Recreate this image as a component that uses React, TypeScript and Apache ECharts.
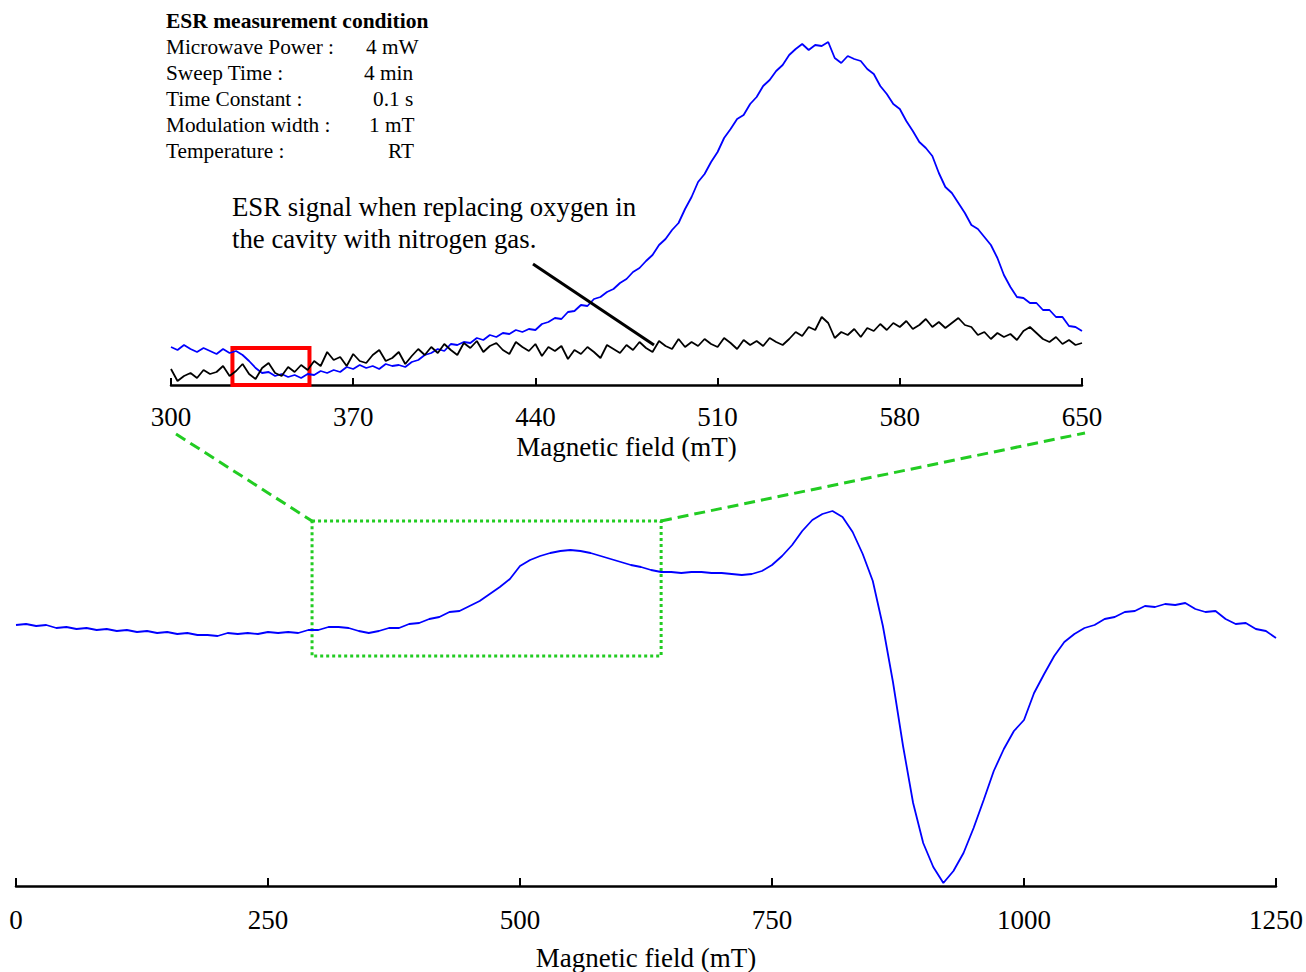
import React, { useEffect, useRef } from "react";
import * as echarts from "echarts";

// Inset (top) panel: field sampled from 300 mT every 2.5 mT
const insetStart = 300;
const insetStep = 2.5;
const insetTicks = [300, 370, 440, 510, 580, 650];

// ESR signal in air (blue), arbitrary units
const insetAir = [
  38, 35, 40, 36, 33, 37, 34, 31, 36, 32,
  34, 30, 24, 17, 12, 13, 9, 11, 8, 10,
  7, 11, 10, 14, 12, 15, 13, 18, 16, 20,
  17, 19, 16, 21, 19, 20, 18, 23, 25, 30,
  32, 36, 34, 41, 40, 43, 42, 47, 45, 50,
  48, 52, 51, 55, 53, 56, 55, 61, 63, 67,
  66, 73, 74, 80, 79, 86, 88, 93, 96, 102,
  106, 113, 117, 124, 130, 140, 146, 155, 162, 176,
  188, 203, 211, 223, 233, 247, 256, 266, 270, 281,
  288, 299, 305, 314, 320, 330, 336, 341, 335, 340,
  339, 343, 327, 322, 329, 326, 324, 316, 311, 299,
  291, 281, 276, 264, 254, 243, 237, 229, 212, 198,
  192, 182, 172, 160, 156, 148, 140, 127, 110, 98,
  88, 87, 82, 82, 75, 75, 68, 68, 59, 58,
  54,
];

// ESR signal with nitrogen in the cavity (black)
const insetNitrogen = [
  16, 4, 9, 12, 7, 15, 11, 13, 19, 9,
  14, 21, 11, 6, 17, 22, 12, 9, 18, 13,
  20, 15, 24, 19, 33, 25, 28, 19, 31, 24,
  22, 30, 35, 24, 27, 33, 21, 29, 36, 30,
  38, 32, 41, 35, 30, 42, 37, 44, 33, 39,
  42, 35, 31, 43, 38, 34, 41, 29, 38, 34,
  39, 26, 35, 31, 38, 33, 27, 40, 36, 32,
  40, 35, 43, 37, 33, 44, 39, 36, 46, 38,
  43, 39, 46, 41, 38, 47, 42, 36, 45, 40,
  44, 39, 47, 43, 40, 46, 53, 49, 58, 55,
  68, 62, 47, 53, 50, 56, 48, 57, 54, 61,
  55, 62, 58, 64, 56, 60, 66, 58, 63, 57,
  62, 67, 60, 58, 50, 53, 46, 52, 48, 51,
  45, 54, 58, 52, 46, 43, 48, 41, 45, 40,
  42,
];

// Main (bottom) panel: field sampled from 0 mT every 10 mT
const mainStart = 0;
const mainStep = 10;
const mainTicks = [0, 250, 500, 750, 1000, 1250];
const mainSignal = [
  261, 262, 260, 261, 258, 259, 257, 258, 256, 257,
  255, 256, 254, 255, 253, 254, 252, 253, 251, 251,
  250, 253, 252, 253, 252, 254, 253, 254, 253, 256,
  256, 259, 259, 258, 255, 253, 255, 258, 258, 262,
  263, 267, 269, 274, 275, 280, 285, 292, 299, 307,
  320, 326, 330, 333, 335, 336, 335, 333, 330, 327,
  324, 321, 319, 316, 314, 314, 313, 314, 314, 313,
  313, 312, 311, 312, 315, 321, 330, 341, 355, 366,
  372, 375, 369, 354, 332, 305, 260, 204, 140, 83,
  43, 19, 3, 15, 33, 58, 86, 115, 137, 155,
  166, 193, 212, 230, 244, 252, 258, 261, 267, 269,
  274, 275, 280, 279, 282, 281, 283, 277, 274, 275,
  267, 262, 263, 257, 255, 248,
];

// Zoom boxes (field range, signal range)
const redBox = { x: [323.6, 353.2], y: [0, 37] };
const greenBox = { x: [293.7, 640], y: [230, 365] };

const conditionTitle = "ESR measurement condition";
const conditionLabels = [
  "Microwave Power :",
  "Sweep Time :",
  "Time Constant :",
  "Modulation width :",
  "Temperature :",
];
const conditionValues = ["4 mW", "4 min", "0.1 s", "1 mT", "RT"];
const noteLines = [
  "ESR signal when replacing oxygen in",
  "the cavity with nitrogen gas.",
];

const FONT = '"Liberation Serif", "Times New Roman", serif';

function pairs(start: number, step: number, values: number[]) {
  return values.map((v, i) => [start + i * step, v]);
}

export default function App() {
  const ref = useRef<HTMLDivElement>(null);

  useEffect(() => {
    if (!ref.current) return;
    const chart = echarts.init(ref.current, null, { renderer: "svg" });

    const axisCommon = (ticks: number[], tickLen: number, margin: number) => ({
      type: "value" as const,
      min: ticks[0],
      max: ticks[ticks.length - 1],
      interval: ticks[1] - ticks[0],
      splitLine: { show: false },
      axisLine: { show: true, onZero: false, lineStyle: { color: "#000", width: 2.5 } },
      axisTick: { show: true, inside: true, length: tickLen, lineStyle: { color: "#000", width: 2 } },
      axisLabel: {
        color: "#000",
        fontSize: 27,
        fontFamily: FONT,
        margin,
        formatter: (v: number) => String(v),
      },
      name: "Magnetic field (mT)",
      nameLocation: "middle" as const,
      nameTextStyle: { color: "#000", fontSize: 27, fontFamily: FONT },
    });

    const valueCol = [366, 364, 373, 369, 388];
    const graphic: any[] = [];
    graphic.push({
      type: "text",
      x: 166,
      y: 21,
      style: {
        text: conditionTitle,
        font: `bold 21.5px ${FONT}`,
        fill: "#000",
        textVerticalAlign: "middle",
        verticalAlign: "middle",
      },
    });
    conditionLabels.forEach((t, i) => {
      graphic.push({
        type: "text",
        x: 166,
        y: 47 + i * 26,
        style: { text: t, font: `21.3px ${FONT}`, fill: "#000", textVerticalAlign: "middle", verticalAlign: "middle" },
      });
      graphic.push({
        type: "text",
        x: valueCol[i],
        y: 47 + i * 26,
        style: { text: conditionValues[i], font: `21.3px ${FONT}`, fill: "#000", textVerticalAlign: "middle", verticalAlign: "middle" },
      });
    });
    noteLines.forEach((t, i) => {
      graphic.push({
        type: "text",
        x: 232,
        y: 207 + i * 32,
        style: { text: t, font: `26.8px ${FONT}`, fill: "#000", textVerticalAlign: "middle", verticalAlign: "middle" },
      });
    });
    graphic.push({
      type: "line",
      shape: { x1: 533, y1: 264, x2: 654, y2: 345 },
      style: { stroke: "#000", lineWidth: 3 },
      z: 10,
    });
    graphic.push({
      type: "line",
      shape: { x1: 176, y1: 434, x2: 312, y2: 521 },
      style: { stroke: "#22cc22", lineWidth: 3, lineDash: [11, 6] },
    });
    graphic.push({
      type: "line",
      shape: { x1: 661, y1: 521, x2: 1085, y2: 433 },
      style: { stroke: "#22cc22", lineWidth: 3, lineDash: [11, 6] },
    });

    chart.setOption({
      animation: false,
      grid: [
        { left: 171, width: 911, top: 40, height: 345 },
        { left: 16, width: 1260, top: 500, height: 386 },
      ],
      xAxis: [
        { ...axisCommon(insetTicks, 7, 18), gridIndex: 0, nameGap: 48 },
        { ...axisCommon(mainTicks, 8, 20), gridIndex: 1, nameGap: 58 },
      ],
      yAxis: [
        { type: "value", gridIndex: 0, min: 0, max: 345, show: false },
        { type: "value", gridIndex: 1, min: 0, max: 386, show: false },
      ],
      series: [
        {
          type: "line",
          name: "Air",
          xAxisIndex: 0,
          yAxisIndex: 0,
          data: pairs(insetStart, insetStep, insetAir),
          showSymbol: false,
          symbol: "none",
          lineStyle: { color: "#0000ff", width: 1.8 },
          z: 2,
        },
        {
          type: "line",
          name: "Nitrogen",
          xAxisIndex: 0,
          yAxisIndex: 0,
          data: pairs(insetStart, insetStep, insetNitrogen),
          showSymbol: false,
          symbol: "none",
          lineStyle: { color: "#000", width: 1.8 },
          z: 3,
          markArea: {
            silent: true,
            label: { show: false },
            itemStyle: { color: "rgba(0,0,0,0)", borderColor: "#ff0000", borderWidth: 4 },
            data: [[{ coord: [redBox.x[0], redBox.y[1]] }, { coord: [redBox.x[1], redBox.y[0]] }]],
          },
        },
        {
          type: "line",
          name: "Main",
          xAxisIndex: 1,
          yAxisIndex: 1,
          data: pairs(mainStart, mainStep, mainSignal),
          showSymbol: false,
          symbol: "none",
          lineStyle: { color: "#0000ff", width: 1.8 },
          markArea: {
            silent: true,
            label: { show: false },
            itemStyle: { color: "rgba(0,0,0,0)", borderColor: "#22cc22", borderWidth: 3, borderType: [3, 3] },
            data: [[{ coord: [greenBox.x[0], greenBox.y[1]] }, { coord: [greenBox.x[1], greenBox.y[0]] }]],
          },
        },
      ],
      graphic,
    });

    return () => chart.dispose();
  }, []);

  return (
    <div
      ref={ref}
      style={{ position: "fixed", left: 0, top: 0, width: 1306, height: 972, background: "#fff" }}
    />
  );
}
